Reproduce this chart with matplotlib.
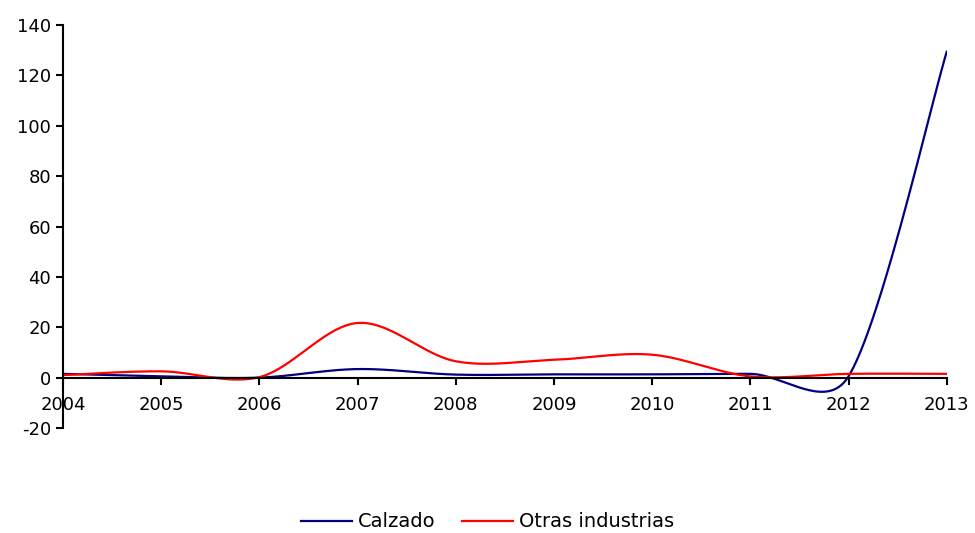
import matplotlib
matplotlib.use("Agg")
import matplotlib.pyplot as plt
import numpy as np

years = [2004, 2005, 2006, 2007, 2008, 2009, 2010, 2011, 2012, 2013]
calzado = [1.5, 0.5, 0.0, 3.4, 1.2, 1.3, 1.3, 1.5, 0.5, 129.4]
otras = [1.0, 2.5, 0.2, 21.7, 6.5, 7.1, 9.1, 0.5, 1.5, 1.5]
y_ticks = [-20, 0, 20, 40, 60, 80, 100, 120, 140]

# pixel scale used for the Excel-like smoothing (px per year, px per unit)
SX, SY = 98.2, 2.52


def smooth(xs, ys, n=60):
    # Catmull-Rom style bezier, shortening handles next to short segments
    p = np.column_stack([np.asarray(xs, float) * SX, np.asarray(ys, float) * SY])
    m = len(p)
    out_c = np.zeros_like(p)
    in_c = np.zeros_like(p)
    for i in range(m):
        if i == 0:
            out_c[i] = p[i] + (p[1] - p[0]) / 6
            continue
        if i == m - 1:
            in_c[i] = p[i] - (p[i] - p[i - 1]) / 6
            continue
        t = (p[i + 1] - p[i - 1]) / 6
        d0 = np.linalg.norm(p[i] - p[i - 1])
        d1 = np.linalg.norm(p[i + 1] - p[i])
        r_in = min(1.0, 2 * d0 / (d0 + d1)) ** 0.5
        r_out = min(1.0, 2 * d1 / (d0 + d1)) ** 0.5
        in_c[i] = p[i] - t * r_in
        out_c[i] = p[i] + t * r_out
    pts = []
    s = np.linspace(0, 1, n)[:, None]
    for i in range(m - 1):
        a, b, c, d = p[i], out_c[i], in_c[i + 1], p[i + 1]
        seg = (1 - s) ** 3 * a + 3 * (1 - s) ** 2 * s * b + 3 * (1 - s) * s ** 2 * c + s ** 3 * d
        pts.append(seg)
    pts = np.vstack(pts)
    return pts[:, 0] / SX, pts[:, 1] / SY


plt.rcParams['font.family'] = ['DejaVu Sans']
plt.rcParams['axes.unicode_minus'] = False
fig = plt.figure(figsize=(9.75, 5.33), dpi=100)
ax = fig.add_axes([0.0646, 0.197, 0.9064, 0.756])

x1, y1 = smooth(years, calzado)
x2, y2 = smooth(years, otras)
ax.plot(x1, y1, color='#000080', lw=1.6, label='Calzado')
ax.plot(x2, y2, color='#FF0000', lw=1.6, label='Otras industrias')

ax.set_xlim(2004, 2013)
ax.set_ylim(-20, 140)
ax.set_xticks(years)
ax.set_yticks(y_ticks)
ax.tick_params(axis='both', labelsize=13, width=1.5, length=5, direction='out')
ax.tick_params(axis='x', pad=8)

for s in ['top', 'right']:
    ax.spines[s].set_visible(False)
ax.spines['bottom'].set_position(('data', 0))
ax.spines['left'].set_linewidth(1.5)
ax.spines['bottom'].set_linewidth(1.5)

fig.legend(loc='lower center', ncol=2, frameon=False, fontsize=14,
           bbox_to_anchor=(0.5, -0.03), handlelength=2.6, handletextpad=0.3,
           columnspacing=1.4)

fig.savefig('out.png')
